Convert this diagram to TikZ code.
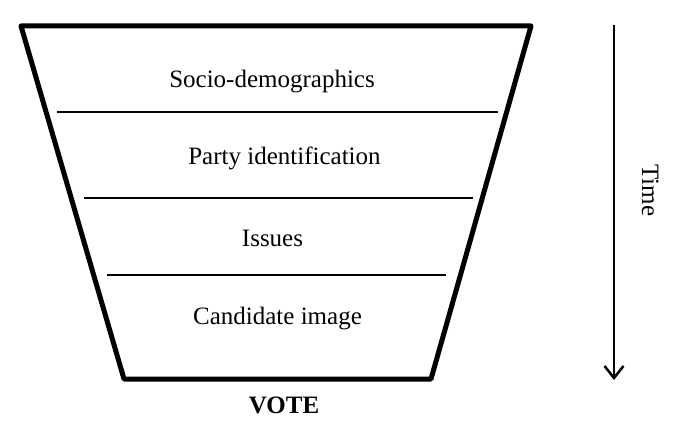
\documentclass[tikz,border=0pt]{standalone}
\usepackage{fontspec}
\setmainfont{Liberation Serif}
\usetikzlibrary{arrows.meta}
\begin{document}
\begin{tikzpicture}[x=1pt,y=-1pt,
  funnel/.style={line width=5pt,line join=round},
  divider/.style={line width=2pt},
  label/.style={anchor=base,inner sep=0pt,font=\fontsize{25}{30}\selectfont},
  timearrow/.style={line width=2.5pt,-{Straight Barb[length=12pt,width=19pt,line width=2.5pt]}}]
\useasboundingbox (0,0) rectangle (676,433);
% funnel outline
\coordinate (tl) at (21,26);
\coordinate (tr) at (531,26);
\coordinate (br) at (431,379);
\coordinate (bl) at (124,379);
\draw[funnel] (tl) -- (tr) -- (br) -- (bl) -- cycle;
% layer separators
\coordinate (d1l) at (57,112);  \coordinate (d1r) at (498,112);
\coordinate (d2l) at (84,198);  \coordinate (d2r) at (473,198);
\coordinate (d3l) at (107,275); \coordinate (d3r) at (446,275);
\draw[divider] (d1l) -- (d1r);
\draw[divider] (d2l) -- (d2r);
\draw[divider] (d3l) -- (d3r);
% layer labels
\node[label] (socio) at (272,88) {Socio-demographics};
\node[label] (party) at (284.5,164) {Party identification};
\node[label] (issues) at (272.5,246) {Issues};
\node[label] (cand) at (277.5,324) {Candidate image};
\node[label,font=\fontsize{25}{30}\selectfont\bfseries] (vote) at (284,413) {VOTE};
% time axis
\coordinate (tstart) at (614,25);
\coordinate (tend) at (614,380);
\draw[timearrow] (tstart) -- (tend);
\node[label,rotate=-90] (time) at (642,190.5) {Time};
\end{tikzpicture}
\end{document}
